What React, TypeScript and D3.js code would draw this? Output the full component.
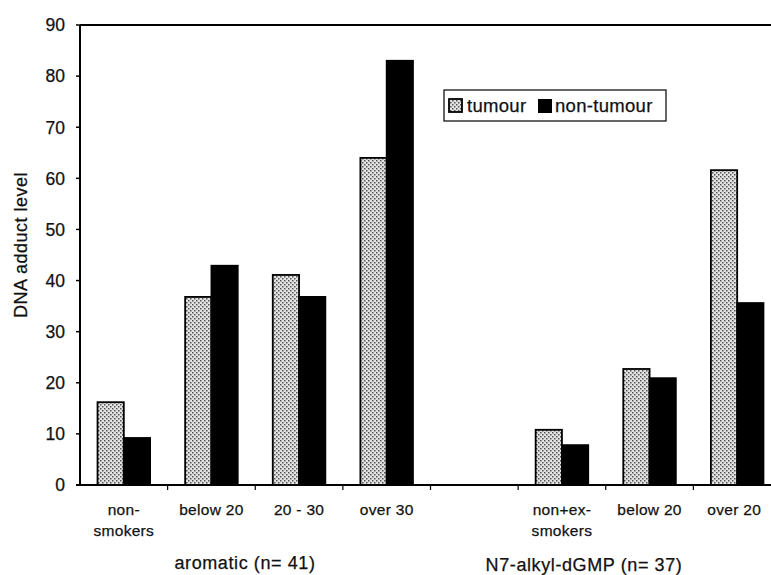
import React from "react";
import * as d3 from "d3";

const categories = ["non-smokers", "below 20", "20 - 30", "over 30", "", "non+ex-smokers", "below 20 ", "over 20"];
const categoryLines = [["non-", "smokers"], ["below 20"], ["20 - 30"], ["over 30"], [], ["non+ex-", "smokers"], ["below 20"], ["over 20"]];
const tumour = [16.2, 36.8, 41.1, 64.0, null, 10.8, 22.7, 61.6];
const nonTumour = [9.2, 42.9, 36.8, 83.0, null, 7.8, 20.9, 35.6];
const yTicks = [0, 10, 20, 30, 40, 50, 60, 70, 80, 90];
const seriesNames = ["tumour", "non-tumour"];
const groupLabels = ["aromatic (n= 41)", "N7-alkyl-dGMP (n= 37)"];

const W = 771, H = 575;
const FONT = "'Liberation Sans', Arial, sans-serif";
const txt = { fontFamily: FONT, fill: "#111", stroke: "#111", strokeWidth: 0.25 } as const;

export default function App() {
  const left = 80, right = 781, top = 25, bottom = 485;
  const x = d3.scaleBand<string>().domain(categories).range([left, right]).padding(0);
  const y = d3.scaleLinear().domain([0, 90]).range([bottom, top]);
  const bw = x.bandwidth();
  const barW = bw * 0.3;
  const off = (bw - 2 * barW) / 2;

  return (
    <svg width={W} height={H} style={{ position: "absolute", left: 0, top: 0, background: "#fff" }}>
      <defs>
        <pattern id="stip" width="4" height="4" patternUnits="userSpaceOnUse">
          <rect width="4" height="4" fill="#e2e2e2" />
          <rect x="0" y="0" width="1.5" height="1.5" fill="#555" />
          <rect x="2" y="2" width="1.5" height="1.5" fill="#555" />
        </pattern>
      </defs>
      {categories.map((c, i) => {
        const x0 = x(c)! + off;
        const t = tumour[i];
        const n = nonTumour[i];
        return (
          <g key={i}>
            {t != null && (
              <rect x={x0} y={y(t)} width={barW} height={y(0) - y(t)} fill="url(#stip)" stroke="#000" strokeWidth={1.8} />
            )}
            {n != null && (
              <rect x={x0 + barW} y={y(n)} width={barW} height={y(0) - y(n)} fill="#000" stroke="#000" strokeWidth={1.8} />
            )}
          </g>
        );
      })}
      <line x1={left} y1={top} x2={W} y2={top} stroke="#000" strokeWidth={2} />
      <line x1={left} y1={top} x2={left} y2={bottom} stroke="#000" strokeWidth={2} />
      <line x1={left - 4} y1={bottom} x2={W} y2={bottom} stroke="#000" strokeWidth={2} />
      {yTicks.map((v) => (
        <g key={v}>
          <line x1={left - 4} x2={left} y1={y(v)} y2={y(v)} stroke="#000" strokeWidth={1.5} />
          <text x={65} y={y(v)} dy="0.36em" textAnchor="end" fontSize={17.5} {...txt}>{v}</text>
        </g>
      ))}
      {categories.map((c, i) => (
        <line key={"xt" + i} x1={x(c)! + bw} x2={x(c)! + bw} y1={bottom} y2={bottom + 5} stroke="#000" strokeWidth={1.2} />
      ))}
      {categories.map((c, i) => {
        const cx = x(c)! + bw / 2 + (i === 7 ? -3 : 0);
        return (
          <text key={"xl" + i} x={cx} y={515} textAnchor="middle" fontSize={15.5} letterSpacing={0.3} {...txt}>
            {categoryLines[i].map((l, j) => (
              <tspan key={j} x={cx} dy={j === 0 ? 0 : 21}>{l}</tspan>
            ))}
          </text>
        );
      })}
      <text x={245} y={569} textAnchor="middle" fontSize={18} letterSpacing={0.6} {...txt}>{groupLabels[0]}</text>
      <text x={584} y={571} textAnchor="middle" fontSize={18} letterSpacing={0.6} {...txt}>{groupLabels[1]}</text>
      <text transform="translate(27,245) rotate(-90)" textAnchor="middle" fontSize={18} letterSpacing={0.5} {...txt}>DNA adduct level</text>
      <rect x={444} y={90} width={222} height={31} fill="#fff" stroke="#000" strokeWidth={1.2} />
      <rect x={449} y={99} width={13} height={13} fill="url(#stip)" stroke="#000" strokeWidth={1.8} />
      <text x={467} y={112} fontSize={18.5} letterSpacing={0.3} {...txt}>{seriesNames[0]}</text>
      <rect x={538} y={99} width={14} height={14} fill="#000" />
      <text x={555} y={112} fontSize={18.5} letterSpacing={0.3} {...txt}>{seriesNames[1]}</text>
    </svg>
  );
}
